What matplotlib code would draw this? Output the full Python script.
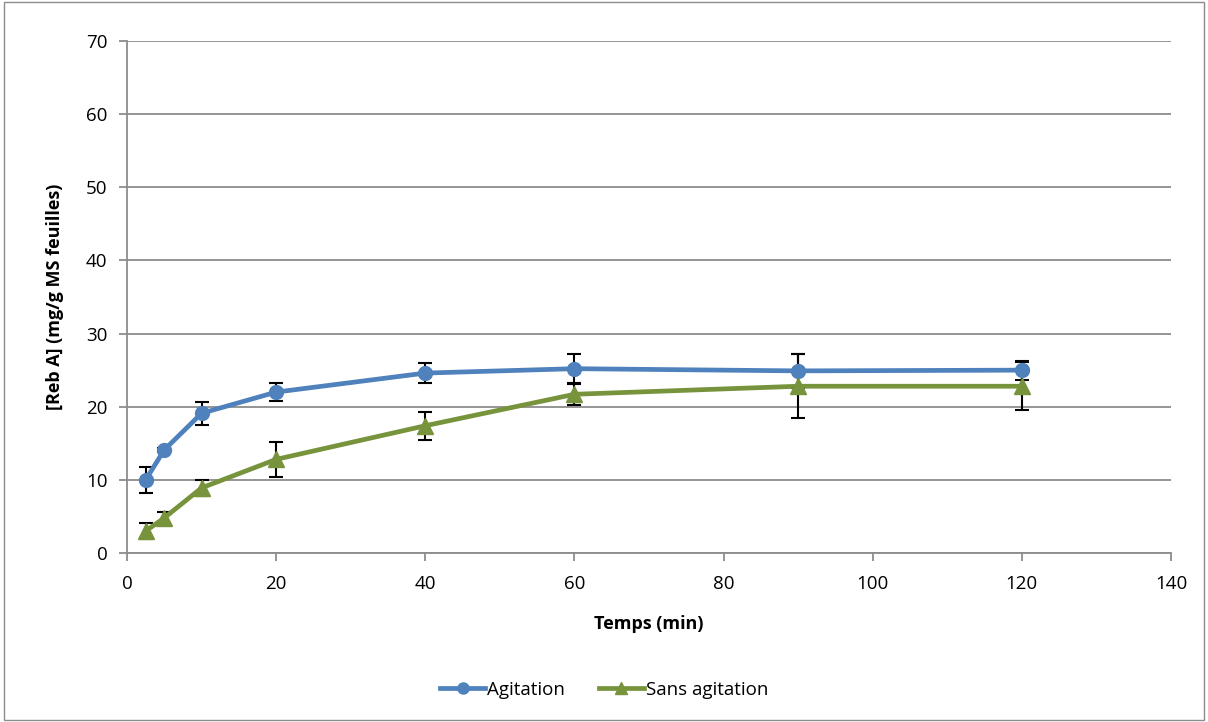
import matplotlib.pyplot as plt
from matplotlib.patches import Rectangle

plt.rcParams['font.family'] = ['Open Sans', 'DejaVu Sans']

temps = [2.5, 5, 10, 20, 40, 60, 90, 120]
agitation = [10.0, 14.1, 19.1, 22.0, 24.6, 25.2, 24.9, 25.0]
agitation_err = [1.8, 0.3, 1.6, 1.25, 1.4, 2.05, 2.35, 1.3]
sans_agitation = [3.0, 4.8, 8.9, 12.8, 17.4, 21.7, 22.8, 22.8]
sans_agitation_err = [1.1, 0.8, 1.1, 2.35, 1.9, 1.5, 4.4, 3.3]

fig = plt.figure(figsize=(12.08, 7.22), dpi=100)
ax = fig.add_axes([127 / 1208, 1 - 553 / 722, 1044 / 1208, 512 / 722])

# outer chart border
fig.patches.append(Rectangle((0.003, 0.003), 0.994, 0.994, transform=fig.transFigure,
                             fill=False, edgecolor='#8c8c8c', linewidth=1))

ax.errorbar(temps, agitation, yerr=agitation_err, fmt='none', ecolor='black',
            elinewidth=1.5, capsize=5, capthick=1.5, zorder=2)
ax.errorbar(temps, sans_agitation, yerr=sans_agitation_err, fmt='none', ecolor='black',
            elinewidth=1.5, capsize=5, capthick=1.5, zorder=2)
ax.plot(temps, agitation, color='#4F81BD', linewidth=3.4, marker='o', markersize=10,
        label='Agitation', zorder=3)
ax.plot(temps, sans_agitation, color='#77933C', linewidth=3.4, marker='^', markersize=11,
        label='Sans agitation', zorder=3)

ax.set_xlim(0, 140)
ax.set_ylim(0, 70)
ax.set_xticks(range(0, 141, 20))
ax.set_yticks(range(0, 71, 10))
ax.yaxis.grid(True, color='#8c8c8c', linewidth=1.3)
ax.set_axisbelow(True)
for s in ['top', 'right']:
    ax.spines[s].set_visible(False)
for s in ['left', 'bottom']:
    ax.spines[s].set_color('#8c8c8c')
    ax.spines[s].set_linewidth(1.3)
ax.tick_params(axis='both', colors='#8c8c8c', labelcolor='black', labelsize=13.5,
               length=6, width=1.3)
ax.tick_params(axis='x', pad=10)
ax.tick_params(axis='y', pad=8)

ax.set_xlabel('Temps (min)', fontsize=13, fontweight='bold', labelpad=16)
ax.set_ylabel('[Reb A] (mg/g MS feuilles)', fontsize=13, fontweight='bold', labelpad=16)

fig.legend(loc='center', bbox_to_anchor=(0.5, 1 - 690 / 722), ncol=2, frameon=False,
           fontsize=13.5, handlelength=2.4, handletextpad=0.1, columnspacing=1.8,
           markerscale=0.8)

fig.savefig('out.png', dpi=100)
